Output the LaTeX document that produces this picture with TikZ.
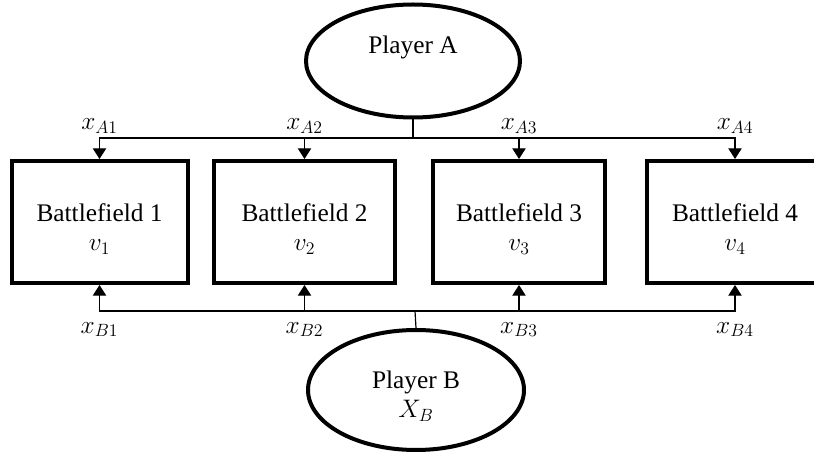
\documentclass[tikz,border=0pt]{standalone}
\usepackage{fix-cm}
\usepackage{fontspec}
\setmainfont{Liberation Serif}
\usetikzlibrary{arrows.meta,positioning,shapes.geometric}

\begin{document}
\begin{tikzpicture}[x=0.75pt,y=-0.75pt,
    font=\fontsize{19}{24}\selectfont,
    player/.style={draw,ellipse,line width=3pt,align=center,inner sep=0pt},
    field/.style={draw,rectangle,line width=3pt,align=center,minimum width=132pt,minimum height=91.5pt},
    alloc/.style={line width=0.9pt,-{Triangle[width=10pt,length=8pt]}},
    amount/.style={inner sep=3pt}]
    \useasboundingbox (0,0) rectangle (814,452);
    \node[player,minimum width=160.5pt,minimum height=84.75pt] (pA) at (413,61) {Player A\\ \mbox{}};
    \node[player,minimum width=162pt,minimum height=90pt] (pB) at (416,390) {\rule{0pt}{22pt}Player B\\[-2pt] $X_B$};
    \node[field] (bf1) at (99.5,222) {\rule{0pt}{24pt}Battlefield 1\\[-2pt] $v_1$};
    \node[field,minimum width=136pt] (bf2) at (304.5,222) {\rule{0pt}{24pt}Battlefield 2\\[-2pt] $v_2$};
    \node[field,minimum width=129pt] (bf3) at (519,222) {\rule{0pt}{24pt}Battlefield 3\\[-2pt] $v_3$};
    \node[field] (bf4) at (735,222) {\rule{0pt}{24pt}Battlefield 4\\[-2pt] $v_4$};
    \coordinate (jA) at (413,138);
    \coordinate (jB) at (415,311);
    \draw[line width=0.9pt] (pA.south) -- (jA);
    \draw[line width=0.9pt] (pB.north) -- (jB);
    \foreach \i in {1,...,4} {
        \draw[alloc] (jA) -| node[amount,above] {$x_{A\i}$} (bf\i.north);
        \draw[alloc] (jB) -| node[amount,below=5pt] {$x_{B\i}$} (bf\i.south);
    }
\end{tikzpicture}
\end{document}
